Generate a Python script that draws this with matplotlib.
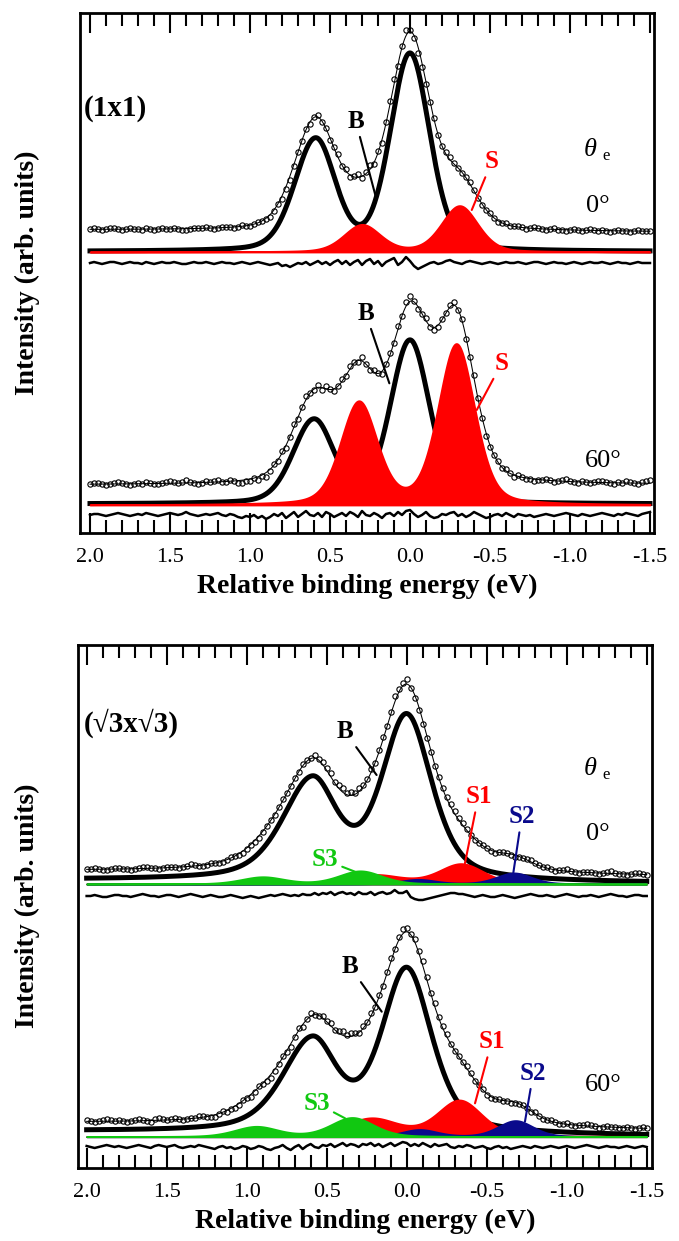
import numpy as np
import matplotlib
matplotlib.use("Agg")
import matplotlib.pyplot as plt
from matplotlib.ticker import FixedLocator, FixedFormatter, MultipleLocator

plt.rcParams['font.family'] = ['Liberation Serif', 'DejaVu Serif']
plt.rcParams['axes.unicode_minus'] = False

# x axis ticks
xtick_values = [2.0, 1.5, 1.0, 0.5, 0.0, -0.5, -1.0, -1.5]
xtick_labels = ['2.0', '1.5', '1.0', '0.5', '0.0', '-0.5', '-1.0', '-1.5']

# peaks: (position eV, height, hwhm on high-BE side, hwhm on low-BE side)
# ---- (1x1), 0 deg
t0_B = [(0.0, 197, 0.145, 0.145), (0.59, 111, 0.155, 0.145)]
t0_S = [(0.30, 27, 0.135, 0.135), (-0.31, 46, 0.135, 0.135)]
t0_base_B = (282.5, 282.5)
t0_base_S = 282
t0_bg = (304, 302)
t0_scale = 0.98
t0_res_level = 271
t0_res = [0, 1, 0, -1, 0, 1, 1, 0, -1, 0,
          1, 0, 0, -1, 1, 0, -1, 0, 1, 0,
          0, 1, 0, -1, -1, 0, 1, 0, 0, 1,
          0, -1, 0, 1, 0, 0, -1, 0, 1, 0,
          -1, 0, 1, 0, -1, -2, -1, 0, -3, -2,
          -4, -2, 0, -1, 1, -2, 0, 2, -1, 1,
          -2, 1, 3, -1, 2, -2, 1, 3, -2, 2,
          4, -1, 2, -3, 1, 3, 5, -2, 1, 6,
          2, -3, -6, -4, -2, 0, 1, -1, 0, 2,
          3, 1, 0, -1, 1, 2, 1, 0, -1, 0,
          1, 0, -1, 0, 1, 0, 0, 1, 0, -1,
          0, 1, 1, 0, -1, 0, 1, 0, 0, -1,
          0, 1, 0, -1, 0, 1, 0, 0, 1, 0,
          -1, 0, 1, 0, 0, -1, 0, 1, 0, 0, 0]

# ---- (1x1), 60 deg
t60_B = [(0.0, 163, 0.145, 0.145), (0.60, 83, 0.155, 0.145)]
t60_S = [(0.32, 102, 0.135, 0.135), (-0.29, 160, 0.135, 0.135)]
t60_base_B = (30, 30)
t60_base_S = 29
t60_bg = (49, 49.5)
t60_scale = 1.0
t60_res_level = 19
t60_res = [0, 1, 1, 0, -1, 0, 1, 2, 1, 0,
           -1, 0, 1, 0, 2, 1, 0, -1, 0, 1,
           2, 1, 0, 1, 3, 1, 0, -1, 0, 1,
           0, 1, 2, 0, -1, 1, 0, -2, -3, -1,
           -2, 0, -3, -1, -4, -2, 1, -1, 2, -3,
           0, 3, -2, 1, 4, 0, -1, 2, -2, 3,
           1, -2, 0, 2, -1, 3, 1, -2, 4, 0,
           -1, 2, 0, -3, 1, 2, -1, 3, 0, 4,
           5, 1, -2, 0, 3, -1, -3, -2, 1, 0,
           2, 3, -1, 1, -2, 0, 3, 1, -1, -3,
           -2, 0, 1, -1, 2, 0, -2, 1, 0, -1,
           0, -2, -1, 0, 1, 0, -1, 0, 1, 2,
           1, 0, -1, 1, 0, -1, 0, 1, 2, 1,
           0, -1, 1, 0, 2, 1, 0, -1, 1, 2, 3]

# ---- (sqrt3 x sqrt3), 0 deg
b0_B = [(0.0, 164, 0.185, 0.185), (0.59, 98, 0.22, 0.18)]
b0_S1 = [(-0.34, 20, 0.165, 0.165), (0.20, 9, 0.2, 0.2)]
b0_S2 = [(-0.67, 11, 0.13, 0.13), (-0.07, 4.5, 0.13, 0.13)]
b0_S3 = [(0.90, 7, 0.16, 0.16), (0.29, 13, 0.16, 0.16)]
b0_base_B = (288, 285)
b0_base_S = 284
b0_bg = (296.5, 291.5)
b0_scale = 1.06
b0_res_level = 272
b0_res = [0, 0, 1, 0, -1, -1, 0, 1, 1, 0,
          0, -1, 0, 1, 2, 1, 0, 0, -1, 0,
          1, 1, 0, -1, 0, 1, 2, 1, 0, -1,
          0, 1, 0, -1, -1, 0, 1, 0, -1, -2,
          -1, 0, -1, -2, -1, 0, 1, 0, 1, 2,
          1, 0, 1, 0, 2, 1, 1, 3, 1, 3,
          2, 4, 1, 3, 4, 2, 3, 1, 4, 2,
          2, 4, 1, 3, 4, 2, 3, 6, 3, 3,
          5, -1, -3, -4, -4, -3, -2, -1, 0, 1,
          2, 3, 3, 2, 2, 1, 0, -1, 0, 1,
          0, -1, -1, 0, 1, 0, -1, -2, -1, 0,
          1, 2, 1, 0, 0, 1, 0, -1, 0, 1,
          2, 1, 0, -1, 0, 0, 1, 0, -1, 0,
          1, 2, 1, 0, 0, -1, 0, 1, 1, 0, 0]

# ---- (sqrt3 x sqrt3), 60 deg
b60_B = [(0.0, 163, 0.185, 0.185), (0.59, 90, 0.22, 0.18)]
b60_S1 = [(-0.33, 36, 0.165, 0.165), (0.22, 18, 0.2, 0.2)]
b60_S2 = [(-0.68, 16, 0.13, 0.13), (-0.08, 7, 0.13, 0.13)]
b60_S3 = [(0.94, 10, 0.16, 0.16), (0.34, 19, 0.16, 0.16)]
b60_base_B = (36.5, 32)
b60_base_S = 31.3
b60_bg = (44.5, 37.5)
b60_scale = 1.06
b60_res_level = 21
b60_res = [1, 0, -1, 0, 1, 2, 1, 0, 1, 0,
           -1, 0, 1, 2, 1, 0, -1, 1, 2, 1,
           0, 1, 2, 0, -1, 0, 1, 0, 2, 1,
           0, -1, -2, 0, 1, -1, 0, -2, -1, 1,
           0, -2, -1, 1, 0, -2, -3, -1, 0, 2,
           -1, -3, 0, 2, -2, 1, 3, 0, -1, 2,
           1, 3, 0, 2, 4, 1, 3, 2, 0, 3,
           2, 4, 1, 3, 0, 2, 4, 1, 3, 5,
           4, 1, 3, 1, 4, 2, 0, 3, 1, 2,
           3, 0, -1, 1, 0, 2, 1, -1, 0, 1,
           -1, -2, 0, 1, -1, 0, -2, -1, 0, 1,
           0, -1, 1, 0, -1, 0, 1, 0, -1, 0,
           1, 0, -1, 0, 1, 2, 1, 0, -1, 0,
           1, 0, 0, -1, 0, 1, 0, -1, 0, 1, 0]

RED, BLUE, GREEN = '#ff0000', '#0a0a8c', '#11c811'

# labels with pointer lines: (text, colour, E_text, I_text, E_tip, I_tip)
top_notes = [('B', 'k', 0.339, 412.7, 0.214, 337.3),
             ('S', RED, -0.511, 372.3, -0.386, 324),
             ('B', 'k', 0.277, 220.7, 0.129, 150.7),
             ('S', RED, -0.573, 170.7, -0.417, 124)]
bot_notes = [('B', 'k', 0.386, 436.3, 0.188, 393),
             ('S1', RED, -0.448, 371.3, -0.364, 304.7),
             ('S2', BLUE, -0.719, 351.3, -0.666, 294.7),
             ('S3', GREEN, 0.511, 308, 0.323, 296.3),
             ('B', 'k', 0.354, 201.3, 0.156, 156.3),
             ('S1', RED, -0.531, 126.3, -0.427, 64.7),
             ('S2', BLUE, -0.791, 94.7, -0.739, 46.3),
             ('S3', GREEN, 0.563, 64.7, 0.385, 49.7)]

E_START, E_STEP = 2.0, 0.025
E_fine = np.linspace(2.0, -1.5, 1400)


def lineshape(E, peaks, eta):
    out = np.zeros_like(E)
    for pos, h, w_hi, w_lo in peaks:
        w = np.where(E > pos, w_hi, w_lo)
        x = (E - pos) / w
        out += h * ((1 - eta) * np.exp(-np.log(2) * x ** 2) + eta / (1 + x ** 2))
    return out


def linear_base(E, ends):
    left, right = ends
    return left + (right - left) * (2.0 - E) / 3.5


def draw_spectrum(ax, B, S_list, colors, eta_B, eta_S, base_B, base_S, bg, scale, res, res_level):
    b_shape = lineshape(E_fine, B, eta_B)
    ax.plot(E_fine, linear_base(E_fine, base_B) + b_shape, color='k', lw=3.6, zorder=2)
    s_total = np.zeros_like(E_fine)
    for i, (s, col) in enumerate(zip(S_list, colors)):
        shp = lineshape(E_fine, s, eta_S)
        s_total += shp
        ax.fill_between(E_fine, base_S, base_S + shp, facecolor=col, edgecolor=col,
                        lw=1.3, zorder=3 + 0.1 * i)
    fit = linear_base(E_fine, bg) + scale * b_shape + s_total
    ax.plot(E_fine, fit, color='k', lw=0.75, zorder=4)

    res = np.asarray(res, dtype=float)
    E_pts = E_START - E_STEP * np.arange(len(res))
    fit_pts = linear_base(E_pts, bg) + scale * lineshape(E_pts, B, eta_B)
    for s in S_list:
        fit_pts += lineshape(E_pts, s, eta_S)
    ax.plot(E_pts, fit_pts + res, 'o', mfc='none', mec='k', ms=3.8, mew=0.8, zorder=5)
    ax.plot(E_pts, res_level + res, color='k', lw=1.8, zorder=2)


def style_axis(ax, xlim, ylim):
    ax.set_xlim(*xlim)
    ax.set_ylim(*ylim)
    ax.set_yticks([])
    ax.xaxis.set_major_locator(FixedLocator(xtick_values))
    ax.xaxis.set_major_formatter(FixedFormatter(xtick_labels))
    ax.xaxis.set_minor_locator(MultipleLocator(0.1))
    ax.tick_params(axis='x', which='both', direction='in', top=True, bottom=True, width=1.5)
    ax.tick_params(axis='x', which='major', length=14.5, labelsize=16, pad=11)
    ax.tick_params(axis='x', which='minor', length=9.5)
    for sp in ax.spines.values():
        sp.set_linewidth(2)
    ax.set_xlabel('Relative binding energy (eV)', fontsize=20, fontweight='bold', labelpad=5)


def add_notes(ax, notes):
    for txt, col, ex, iy, tx, ty in notes:
        ax.annotate(txt, xy=(tx, ty), xytext=(ex, iy), ha='center', va='center',
                    fontsize=18, fontweight='bold', color=col, zorder=7,
                    arrowprops=dict(arrowstyle='-', color=col, lw=1.5, shrinkA=1, shrinkB=0))


W, H = 679, 1241


def rect(left, top, right, bottom):
    return [left / W, 1 - bottom / H, (right - left) / W, (bottom - top) / H]


def fxy(x, y):
    return x / W, 1 - y / H


fig = plt.figure(figsize=(W / 100, H / 100), dpi=100)
ax_top = fig.add_axes(rect(80, 13, 654, 533))
ax_bot = fig.add_axes(rect(78, 645, 652, 1168))

draw_spectrum(ax_top, t0_B, [t0_S], [RED], 0.25, 0.3, t0_base_B, t0_base_S,
              t0_bg, t0_scale, t0_res, t0_res_level)
draw_spectrum(ax_top, t60_B, [t60_S], [RED], 0.25, 0.3, t60_base_B, t60_base_S,
              t60_bg, t60_scale, t60_res, t60_res_level)
draw_spectrum(ax_bot, b0_B, [b0_S1, b0_S2, b0_S3], [RED, BLUE, GREEN], 0.5, 0.3,
              b0_base_B, b0_base_S, b0_bg, b0_scale, b0_res, b0_res_level)
draw_spectrum(ax_bot, b60_B, [b60_S1, b60_S2, b60_S3], [RED, BLUE, GREEN], 0.5, 0.3,
              b60_base_B, b60_base_S, b60_bg, b60_scale, b60_res, b60_res_level)

style_axis(ax_top, (2.0625, -1.525), (1, 521))
style_axis(ax_bot, (2.054, -1.533), (0, 523))
add_notes(ax_top, top_notes)
add_notes(ax_bot, bot_notes)

fig.text(*fxy(84, 108), '(1x1)', fontsize=21, fontweight='bold', ha='left', va='center')
fig.text(*fxy(84, 723), '(\u221a3x\u221a3)', fontsize=21, fontweight='bold', ha='left', va='center')
for ty, y0, y60 in [(150, 206, 461), (769, 834, 1085)]:
    fig.text(*fxy(590, ty), '\u03b8', fontsize=19, style='italic', ha='center', va='center')
    fig.text(*fxy(606, ty + 6), 'e', fontsize=12, ha='center', va='center')
    fig.text(*fxy(598, y0), '0\u00b0', fontsize=19, ha='center', va='center')
    fig.text(*fxy(603, y60), '60\u00b0', fontsize=19, ha='center', va='center')
for cy in (273, 906):
    fig.text(*fxy(27, cy), 'Intensity (arb. units)', rotation=90, fontsize=20,
             fontweight='bold', ha='center', va='center')

fig.savefig('out.png', dpi=100)
